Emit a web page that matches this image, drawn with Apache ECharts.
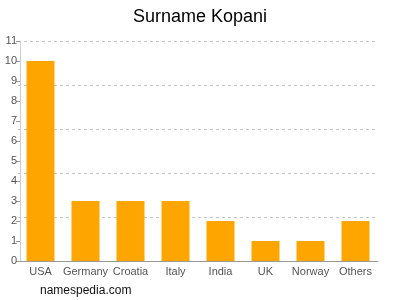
<!DOCTYPE html>
<html>
<head>
<meta charset="utf-8">
<script src="https://cdn.jsdelivr.net/npm/echarts@6/dist/echarts.min.js"></script>
<style>html,body{margin:0;padding:0;background:#fff;}#c{width:400px;height:300px;}</style>
</head>
<body>
<div id="c"></div>
<script>
var categories = ["USA", "Germany", "Croatia", "Italy", "India", "UK", "Norway", "Others"];
var counts = [10, 3, 3, 3, 2, 1, 1, 2];
var yTickLabels = ["0","1","2","3","4","5","6","7","8","9","10","11"];

var chart = echarts.init(document.getElementById('c'), null, {renderer: 'canvas'});
var font = "'Liberation Sans', Arial, sans-serif";
chart.setOption({
  animation: false,
  backgroundColor: '#ffffff',
  title: {
    text: 'Surname Kopani',
    left: 'center',
    top: 3,
    textStyle: {fontFamily: font, fontSize: 18, fontWeight: 'normal', color: '#000'}
  },
  graphic: [{
    type: 'text',
    left: 40,
    top: 285,
    style: {text: 'namespedia.com', font: "12px 'Liberation Sans', Arial, sans-serif", fill: '#111'}
  }],
  grid: {left: 18, right: 22, top: 41, bottom: 39, containLabel: false},
  xAxis: {
    type: 'category',
    data: categories,
    axisLine: {lineStyle: {color: '#999', width: 1}},
    axisTick: {alignWithLabel: true, length: 4, lineStyle: {color: '#999'}},
    axisLabel: {color: '#555', fontFamily: font, fontSize: 11, margin: 5, interval: 0}
  },
  yAxis: [{
    type: 'value',
    min: 0, max: 11, interval: 1,
    offset: -2,
    axisLine: {show: true, lineStyle: {color: '#ccc'}},
    axisTick: {show: true, length: 4, lineStyle: {color: '#999'}},
    axisLabel: {color: '#555', fontFamily: font, fontSize: 11, margin: 3,
      formatter: function (v) { return yTickLabels[Math.round(v)]; }},
    splitLine: {show: false}
  }, {
    type: 'value',
    position: 'left',
    min: 0, max: 11, interval: 2.2,
    axisLine: {show: false},
    axisTick: {show: false},
    axisLabel: {show: false},
    splitLine: {show: true, lineStyle: {color: '#c4c4c4', type: [3, 3], width: 1}}
  }],
  series: [{
    type: 'bar',
    data: counts,
    barWidth: 28,
    itemStyle: {color: '#FFA500'}
  }]
});
</script>
</body>
</html>
